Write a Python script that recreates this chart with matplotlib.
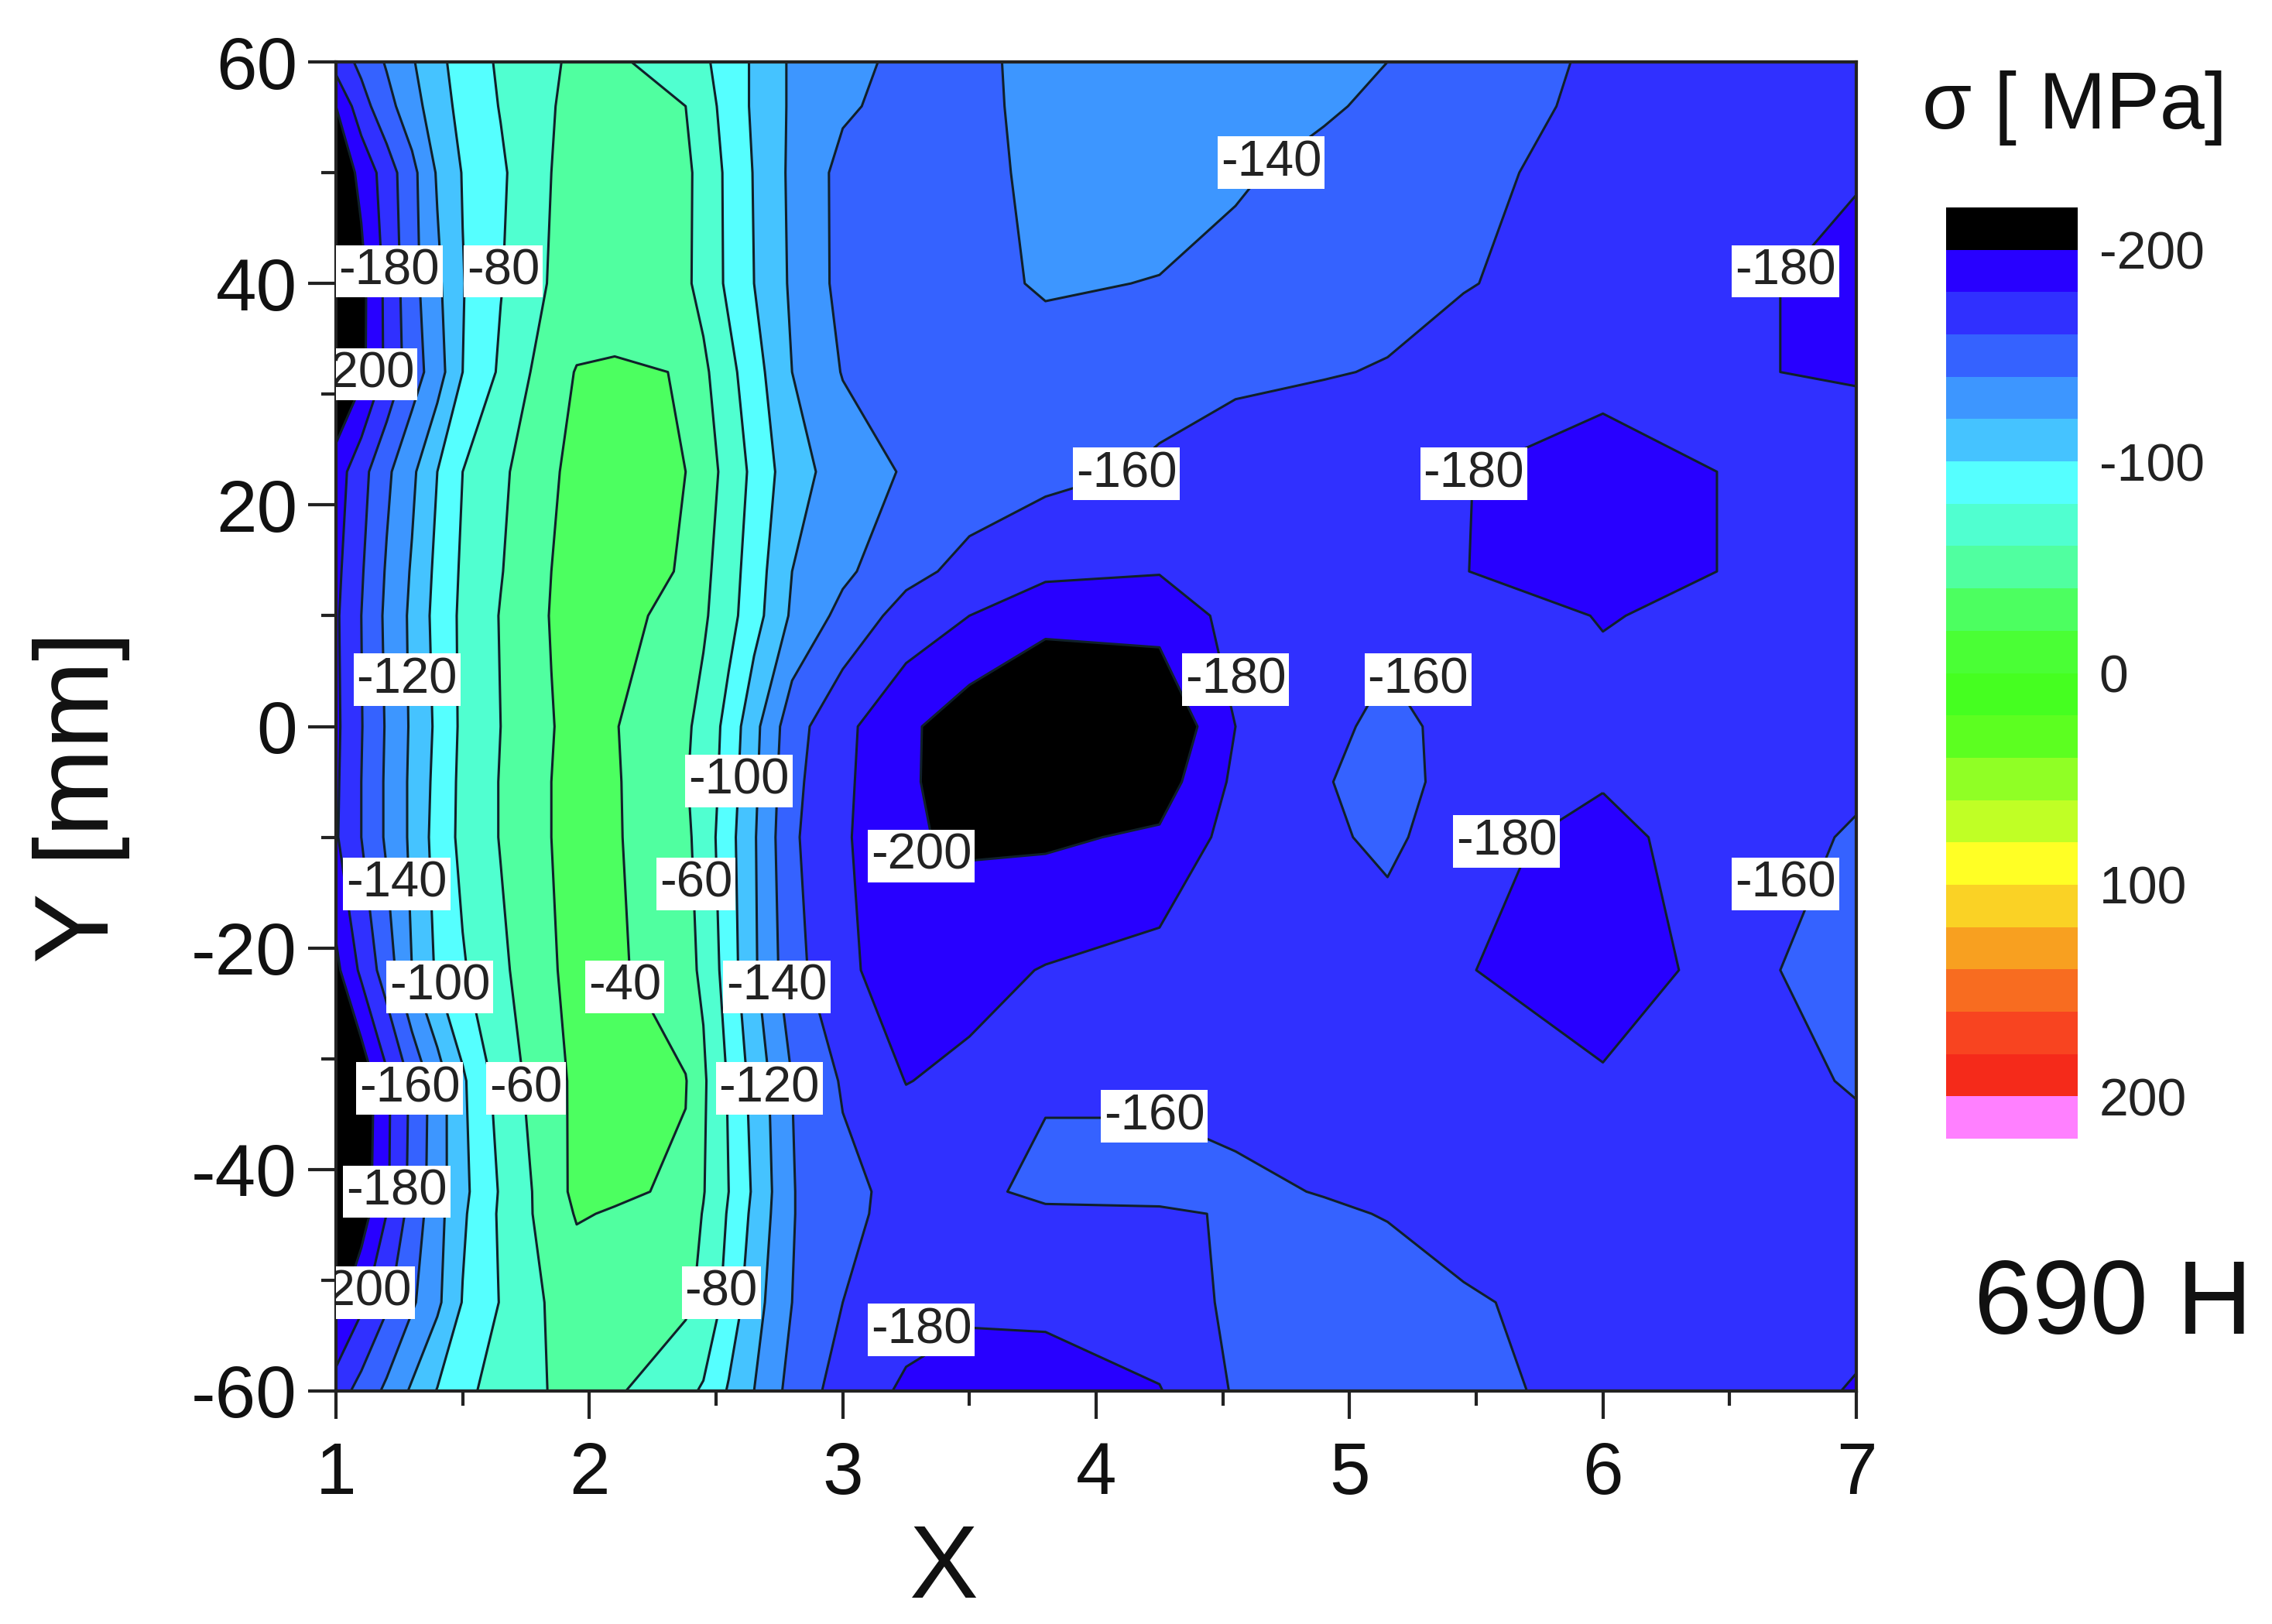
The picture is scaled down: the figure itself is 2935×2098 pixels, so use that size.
import matplotlib
matplotlib.use('Agg')
import matplotlib.pyplot as plt
import numpy as np

plt.rcParams['font.family'] = ['Liberation Sans', 'DejaVu Sans']
plt.rcParams['axes.unicode_minus'] = False

x_vals = [1, 1.1, 1.2, 1.3, 1.4, 1.5, 1.65, 1.85, 1.95, 2.1, 2.38, 2.45, 2.55, 2.65, 2.8,
          3, 3.25, 3.5, 3.8, 4.25, 4.55, 4.9, 5.15, 5.45, 6, 6.45, 6.7, 7]
y_vals = [60, 56, 50, 40, 32, 23, 14, 10, 0, -5, -10, -22, -32, -42, -44, -52, -60]

# one row per y_vals entry, stress in MPa
sigma = [
    [-172, -155, -138, -122, -105, -92, -77, -62, -57, -56, -73, -77, -88, -103, -123,
     -135, -144, -146, -132, -125, -128, -134, -140, -150, -163, -168, -170, -172],
    [-200, -168, -147, -128, -109, -94, -79, -61, -55, -50, -60, -71, -88, -103, -123,
     -137, -147, -146, -133, -126, -130, -137, -145, -152, -164, -170, -172, -175],
    [-215, -195, -170, -146, -118, -99, -83, -60, -54, -50, -57, -65, -85, -101, -124,
     -146, -150, -146, -135, -128, -137, -147, -151, -156, -166, -172, -175, -178],
    [-220, -206, -175, -147, -124, -101, -81, -58, -52, -47, -57, -66, -84, -100, -123,
     -146, -152, -148, -137, -141, -147, -152, -155, -159, -168, -176, -180, -188],
    [-225, -205, -176, -150, -129, -100, -77, -48, -39, -38.5, -40.5, -56, -74, -92, -120,
     -141, -147, -150, -152, -155, -157, -159, -161, -168, -175, -178, -180, -181],
    [-190, -167, -144, -124, -100, -80, -64, -42, -36, -30, -40, -50, -67, -85, -112,
     -129, -142, -149, -155, -162, -168, -172, -175, -179.5, -187, -180, -176, -174],
    [-185, -162, -138, -118, -95, -77, -61, -40, -33, -30, -42, -55, -71, -90, -120,
     -136, -154, -166, -175, -179, -172, -170, -173, -179.5, -192, -180, -174, -172],
    [-183, -160, -136, -116, -93, -76, -59, -39, -33, -32, -49, -57, -73, -92, -123,
     -146, -168, -180, -196, -192, -174, -168, -166, -170, -181, -176, -172, -170],
    [-184, -161, -138, -117, -96, -76, -60, -41, -33, -39, -57, -66, -87, -114, -152,
     -175, -196, -212, -215, -220, -180, -166, -154, -167, -174, -172, -170, -167],
    [-183, -160, -137, -116, -94, -75, -59, -40, -33, -38, -59, -66, -90, -116, -155,
     -176, -197, -210, -225, -210, -176, -162, -148, -172, -179, -172, -168, -163],
    [-182, -160, -137, -116, -92, -75, -59, -40, -33, -38, -56, -68, -93, -118, -157,
     -177, -198, -203, -203, -197, -172, -165, -154, -176, -184, -174, -165, -158],
    [-205, -176, -150, -120, -97, -82, -64, -42, -34, -36, -55, -63, -90, -117, -153,
     -176, -190, -186, -179, -172, -168, -172, -174, -179, -190, -175, -160, -143],
    [-240, -215, -184, -156, -130, -103, -72, -45, -37, -29, -39, -57, -82, -107, -140,
     -162, -180.5, -176, -165, -165, -167, -170, -172, -176, -178, -172, -165, -158],
    [-235, -212, -183, -154, -129, -105, -78, -49, -35, -37, -43, -59, -80, -103, -139,
     -155, -166, -170, -150, -150, -156, -161, -167, -172, -175, -174, -172, -170],
    [-233, -210, -180, -152, -127, -103, -77, -50, -38.5, -41.5, -50, -61, -82, -105, -139,
     -155, -167, -167, -168, -165, -157, -157, -161, -170, -174, -174, -172, -171],
    [-207, -184, -163, -143, -124, -99, -79, -57, -51, -47, -56, -65, -87, -112, -140,
     -160, -172, -176, -175, -168, -157, -150, -150, -157, -170, -174, -175, -176],
    [-170, -153, -136, -117, -99, -85, -72, -59, -57, -57, -76, -82, -102, -120, -147,
     -169, -183, -190, -190, -181, -158, -152, -151, -155, -166, -172, -176, -181],
]

levels = list(range(-200, 201, 20))
band_colors = ['#000000', '#2800FF', '#3030FF', '#3562FF', '#3D96FF', '#45C3FF',
               '#55FFFF', '#50FFD0', '#50FFA0', '#4CFF60', '#4AFF35', '#45FF20',
               '#5CFF20', '#90FF25', '#C0FF25', '#FFFF25', '#FAD225', '#F8A020',
               '#F86C20', '#F84420', '#F52A1A', '#FF80FF']

# contour labels, placed by hand like in the original
label_text = ['-140', '-180', '-80', '-180', '-200', '-160', '-180', '-120', '-180',
              '-160', '-100', '-200', '-180', '-140', '-60', '-160', '-100', '-40',
              '-140', '-160', '-60', '-120', '-160', '-180', '-200', '-80', '-180']
label_x = [4.69, 1.21, 1.66, 6.72, 1.11, 4.12, 5.49, 1.28, 4.55, 5.27, 2.59, 3.31, 5.62,
           1.24, 2.42, 6.72, 1.41, 2.14, 2.74, 1.29, 1.75, 2.71, 4.23, 1.24, 1.10, 2.52, 3.31]
label_y = [50.9, 41.1, 41.1, 41.1, 31.8, 22.8, 22.8, 4.2, 4.2, 4.2, -4.9, -11.7, -10.4,
           -14.2, -14.2, -14.2, -23.5, -23.5, -23.5, -32.7, -32.7, -32.7, -35.2, -42.0,
           -51.1, -51.1, -54.5]

W, H = 2935, 2098
fig = plt.figure(figsize=(W / 100, H / 100), dpi=100, facecolor='white')
ax = fig.add_axes([434 / W, 1 - 1797 / H, 1964 / W, 1717 / H])

cf = ax.contourf(x_vals, y_vals, np.array(sigma), levels=levels, colors=band_colors, extend='both')
ax.contour(x_vals, y_vals, np.array(sigma), levels=levels, colors='#10202a', linewidths=2.2,
           linestyles='solid')

for t, lx, ly in zip(label_text, label_x, label_y):
    ax.text(lx, ly, t, fontsize=47, ha='center', va='center', color='#222222', clip_on=True,
            bbox=dict(facecolor='white', edgecolor='none', pad=3))

ax.set_xlim(1, 7)
ax.set_ylim(-60, 60)
ax.set_xticks([1, 2, 3, 4, 5, 6, 7])
ax.set_xticks([1.5, 2.5, 3.5, 4.5, 5.5, 6.5], minor=True)
ax.set_yticks([-60, -40, -20, 0, 20, 40, 60])
ax.set_yticks([-50, -30, -10, 10, 30, 50], minor=True)
ax.tick_params(which='major', length=26, width=3, labelsize=68, pad=10, color='#222222', labelcolor='#111111')
ax.tick_params(which='minor', length=14, width=3, color='#222222')
ax.tick_params(axis='x', which='major', pad=20)
for s in ax.spines.values():
    s.set_linewidth(3)
    s.set_color('#222222')

fig.text(1220 / W, 1 - 2030 / H, 'X', fontsize=96, ha='center', va='center', color='#111111')
fig.text(105 / W, 1 - 1030 / H, 'Y [mm]', fontsize=98, rotation=90, ha='center', va='center', color='#111111')
fig.text(2680 / W, 1 - 140 / H, 'σ [ MPa]', fontsize=75, ha='center', va='center', color='#111111')
fig.text(2730 / W, 1 - 1688 / H, '690 H', fontsize=97, ha='center', va='center', color='#111111')

# extends sit inside the axes with extendrect, so this box spans black to pink
cax = fig.add_axes([2514 / W, 1 - 1471 / H, 170 / W, 1203 / H])
cb = fig.colorbar(cf, cax=cax, extend='both', extendrect=True, extendfrac=0.05, drawedges=False)
cb.outline.set_visible(False)
cb.set_ticks([-200, -100, 0, 100, 200])
cax.invert_yaxis()
cax.minorticks_off()
cax.tick_params(length=0, labelsize=49, pad=20, labelcolor='#222222')

plt.savefig('out.png', dpi=100)
